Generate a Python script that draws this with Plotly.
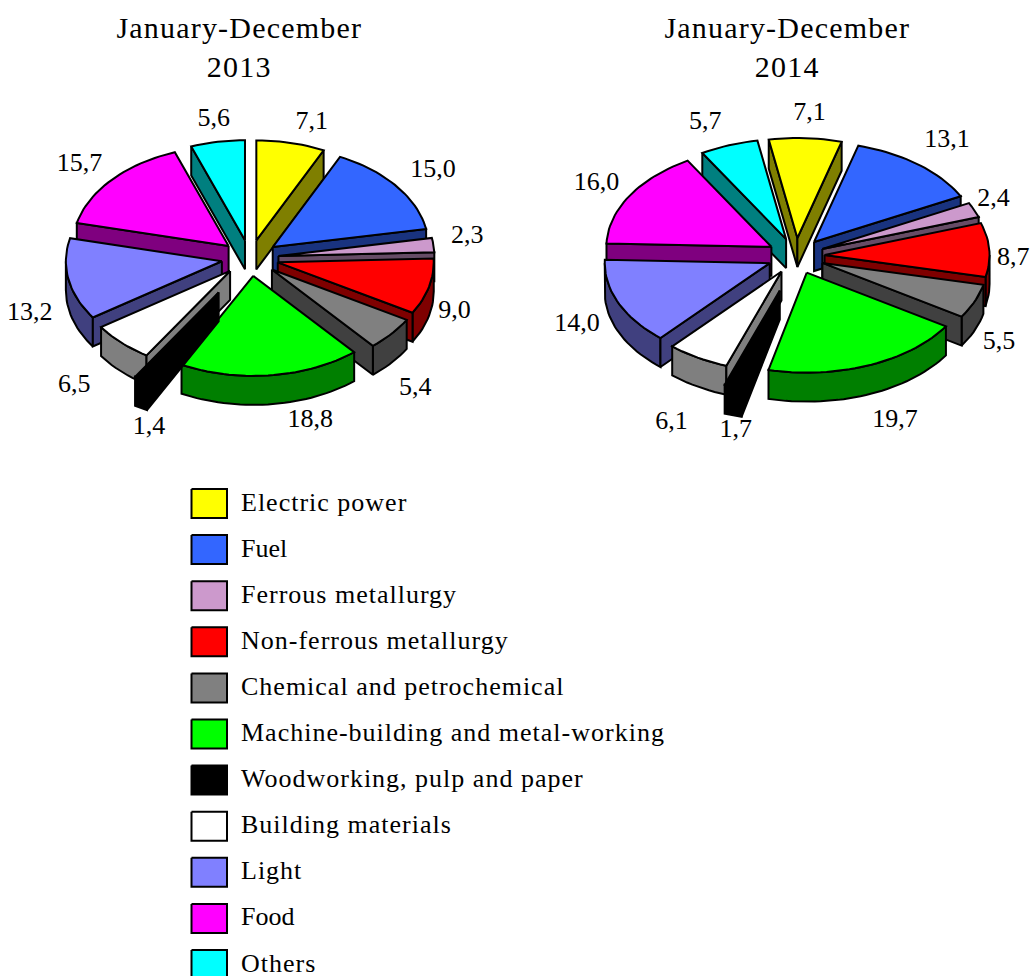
import math
import plotly.graph_objects as go

CATEGORIES = ["Electric power", "Fuel", "Ferrous metallurgy", "Non-ferrous metallurgy",
              "Chemical and petrochemical", "Machine-building and metal-working",
              "Woodworking, pulp and paper", "Building materials", "Light", "Food", "Others"]
VALUES_2013 = [7.1, 15.0, 2.3, 9.0, 5.4, 18.8, 1.4, 6.5, 13.2, 15.7, 5.6]
VALUES_2014 = [7.1, 13.1, 2.4, 8.7, 5.5, 19.7, 1.7, 6.1, 14.0, 16.0, 5.7]
TITLES = ["January-December<br>2013", "January-December<br>2014"]

COLORS = ["#FFFF00", "#3366FF", "#CC99CC", "#FF0000", "#808080", "#00FF00",
          "#000000", "#FFFFFF", "#8080FF", "#FF00FF", "#00FFFF"]
PULL = {2013: [1, 1, 1, 1, 1, 1, 2.2, 1, 1, 1, 1],
        2014: [1, 1, 1, 1, 1, 1, 2.0, 1, 1, 1, 1]}
NUDGE = {2013: [(16, -1), (19, -4), (12, -6), (4, 16), (7, 32), (37, 10),
                (19, 18), (-32, 18), (-17, 28), (-16, -2), (0, -3)],
         2014: [(3, -5), (15, -8), (-1, -3), (2, 10), (4, 28), (18, 23),
                (9, 11), (-15, 35), (-21, 8), (-14, -2), (-16, -4)]}

FONT = "Liberation Serif"
DEPTH = 29
EX, EY = 28.6, 18


def darker(hexcol):
    r, g, b = (int(hexcol[i:i + 2], 16) for i in (1, 3, 5))
    return f"rgb({r // 2},{g // 2},{b // 2})"


fig = go.Figure()


def poly(xs, ys, fill):
    fig.add_trace(go.Scatter(x=xs + xs[:1], y=ys + ys[:1], mode="lines", fill="toself",
                             fillcolor=fill, line=dict(color="black", width=2),
                             hoverinfo="skip", showlegend=False))


def pie(values, year, cx, cy, rx, ry, start):
    total = sum(values)
    slices = []
    cum = 0.0
    for i, v in enumerate(values):
        a0 = start + cum / total * 360
        cum += v
        a1 = start + cum / total * 360
        m = math.radians((a0 + a1) / 2)
        p = PULL[year][i]
        ax = cx + EX * p * math.sin(m)
        ay = cy - EY * p * math.cos(m)
        slices.append((ay - 0.66 * ry * math.cos(m), i, a0, a1, ax, ay, m))
    label_x, label_y, label_t = [], [], []
    for _, i, a0, a1, ax, ay, m in sorted(slices):
        n = max(3, int((a1 - a0) / 2))
        angs = [math.radians(a0 + (a1 - a0) * k / n) for k in range(n + 1)]
        xs = [ax + rx * math.sin(t) for t in angs]
        ys = [ay - ry * math.cos(t) for t in angs]
        dark = darker(COLORS[i])
        # forward-facing part of the outer rim
        lo, hi = max(a0, 90), min(a1, 270)
        if a0 + 360 < 270:
            lo, hi = max(a0 + 360, 90), min(a1 + 360, 270)
        if hi > lo:
            k = max(2, int((hi - lo) / 2))
            front = [math.radians(lo + (hi - lo) * j / k) for j in range(k + 1)]
            fx = [ax + rx * math.sin(t) for t in front]
            fy = [ay - ry * math.cos(t) for t in front]
            poly(fx + fx[::-1], fy + [y + DEPTH for y in fy[::-1]], dark)
        # radial cut faces that look towards the viewer
        if math.sin(math.radians(a0)) < 0:
            poly([ax, xs[0], xs[0], ax], [ay, ys[0], ys[0] + DEPTH, ay + DEPTH], dark)
        if math.sin(math.radians(a1)) > 0:
            poly([ax, xs[-1], xs[-1], ax], [ay, ys[-1], ys[-1] + DEPTH, ay + DEPTH], dark)
        # top
        poly([ax] + xs, [ay] + ys, COLORS[i])
        c = math.cos(m)
        dx, dy = NUDGE[year][i]
        label_x.append(ax + (rx + 22) * math.sin(m) + dx)
        label_y.append(ay - (ry + 20) * c + (15 * -c if c < 0 else 0) + dy)
        label_t.append(f"{values[i]:.1f}".replace(".", ","))
    fig.add_trace(go.Scatter(x=label_x, y=label_y, text=label_t, mode="text",
                             textposition="middle center", hoverinfo="skip", showlegend=False,
                             textfont=dict(family=FONT, size=26, color="black")))


pie(VALUES_2013, 2013, 250, 258, 156, 100, 0)
pie(VALUES_2014, 2014, 796, 256, 165, 100, -10)

# legend rows
for i, name in enumerate(CATEGORIES):
    yc = 503.5 + 46.1 * i
    poly([191.5, 227, 227, 191.5], [yc - 14.5, yc - 14.5, yc + 14.5, yc + 14.5], COLORS[i])
fig.add_trace(go.Scatter(x=[241] * len(CATEGORIES), y=[504 + 46.1 * i for i in range(len(CATEGORIES))],
                         text=CATEGORIES, mode="text", textposition="middle right",
                         hoverinfo="skip", showlegend=False,
                         textfont=dict(family=FONT, size=26, color="black")))

for t, x in zip(TITLES, (239, 787)):
    fig.add_annotation(x=x, y=47, text=t, showarrow=False, xanchor="center", yanchor="middle",
                       font=dict(family=FONT, size=30, color="black"), align="center")

fig.update_layout(width=1032, height=976, margin=dict(l=0, r=0, t=0, b=0),
                  paper_bgcolor="white", plot_bgcolor="white", showlegend=False,
                  xaxis=dict(range=[0, 1032], visible=False, fixedrange=True),
                  yaxis=dict(range=[976, 0], visible=False, fixedrange=True))
SPACING = """
document.body.style.margin='0';
document.documentElement.style.overflow='hidden';
document.querySelectorAll('.annotation-text').forEach(function(e){e.style.letterSpacing='1.2px';});
document.querySelectorAll('.textpoint text').forEach(function(e){
  if (e.textContent.length > 4) { e.style.letterSpacing='1px'; }
});
"""
fig.write_html("out.html", post_script=SPACING, config=dict(displayModeBar=False))
